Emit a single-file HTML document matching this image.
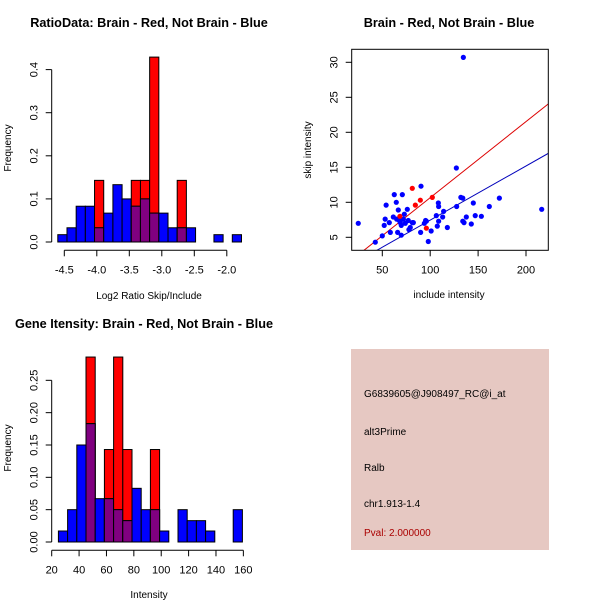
<!DOCTYPE html>
<html><head><meta charset="utf-8"><style>
body{margin:0;background:#fff}
svg{display:block;font-family:"Liberation Sans",sans-serif}
</style></head><body>
<svg id="s" width="600" height="600" viewBox="0 0 600 600">
<rect x="0" y="0" width="600" height="600" fill="#fff"/>
</svg>
<script>
// ---- data ----
const ratioBlue=[0.017,0.033,0.083,0.083,0.033,0.067,0.133,0.1,0.083,0.1,0.067,0.067,0.033,0.033,0.033,0,0,0.017,0,0.017];
const ratioRed=[0,0,0,0,0.143,0,0,0,0.143,0.143,0.429,0,0,0.143,0,0,0,0,0,0];
const ratioXTicks=[-4.5,-4.0,-3.5,-3.0,-2.5,-2.0];
const ratioYTicks=[0.0,0.1,0.2,0.3,0.4];
const intBlue=[0.017,0.05,0.15,0.183,0.067,0.067,0.05,0.033,0.083,0.05,0.05,0.017,0,0.05,0.033,0.033,0.017,0,0,0.05];
const intRed=[0,0,0,0.286,0,0.143,0.286,0.143,0,0,0.143,0,0,0,0,0,0,0,0,0];
const intXTicks=[20,40,60,80,100,120,140,160];
const intYTicks=[0.00,0.05,0.10,0.15,0.20,0.25];
const blueX=[24.9,42.7,50,52,53,54,57.3,58.4,61.5,62.5,64.6,65,66,66.7,67.8,68.8,69.8,69.8,70.9,72,73,74,76.1,77.1,77.8,79.2,81.3,82.4,90.4,90,93.9,95.2,96,98,101,106.4,107.4,108.5,108.8,108.8,113,114,117.9,127.3,127.6,132,134,134,135.3,134.6,137.7,142.9,145,147,153.4,161.7,172.2,216.4];
const blueY=[7.0,4.3,5.2,6.7,7.6,9.6,7.1,5.7,7.9,11.1,10.0,7.6,5.7,8.9,7.4,7.1,6.7,5.3,11.1,7.6,8.3,7.0,9.0,7.4,6.1,6.4,7.1,7.1,12.3,5.7,7.0,7.4,7.3,4.4,5.9,8.1,6.6,9.9,9.4,7.3,7.9,8.7,6.4,14.9,9.4,10.7,10.6,7.3,7.1,30.7,7.9,6.9,9.9,8.1,8.0,9.4,10.6,9.0];
const redX=[68.4,81.3,84.5,89.7,102.2,96];
const redY=[8.0,12.0,9.6,10.3,10.7,6.3];
const redFit=[-0.21,0.1087];
const blueFit=[-0.29,0.0774];
const scXTicks=[50,100,150,200];
const scYTicks=[5,10,15,20,25,30];

const NS="http://www.w3.org/2000/svg";
const svg=document.getElementById('s');
function el(tag,attrs,parent){const e=document.createElementNS(NS,tag);for(const k in attrs)e.setAttribute(k,attrs[k]);(parent||svg).appendChild(e);return e;}
function txt(x,y,s,attrs){const e=el('text',Object.assign({x:x,y:y,'font-size':11,'text-anchor':'middle',fill:'#000'},attrs||{}));e.textContent=s;return e;}

function hist(cfg){
  const g=el('g',{});
  
  
  const X=v=>cfg.x0px+(v-cfg.x0)*cfg.xs, Y=v=>cfg.y0px-v*cfg.ys;
  for(let i=0;i<cfg.blue.length;i++){
    const a=cfg.start+i*cfg.w, b=a+cfg.w, r=cfg.red[i], bl=cfg.blue[i];
    const xa=X(a), xb=X(b);
    if(r>0){const e=el('rect',{x:xa,y:Y(r),width:xb-xa,height:Y(0)-Y(r),fill:'#ff0000',stroke:'#000','stroke-width':1},g);
      }
    if(bl>0){const m=Math.min(r,bl);
      const e=el('rect',{x:xa,y:Y(bl),width:xb-xa,height:Y(0)-Y(bl),fill:'#0000ff',stroke:'#000','stroke-width':1},g);
      
      if(m>0){const p=el('rect',{x:xa,y:Y(m),width:xb-xa,height:Y(0)-Y(m),fill:'#800080',stroke:'#000','stroke-width':1},g);
        }
    }
  }
  const yt=cfg.yticks, ax=cfg.yaxX;
  el('line',{x1:ax,x2:ax,y1:Y(yt[0]),y2:Y(yt[yt.length-1]),stroke:'#000'},g);
  yt.forEach(v=>{el('line',{x1:ax-6,x2:ax,y1:Y(v),y2:Y(v),stroke:'#000'},g);
    const t=txt(ax-14,Y(v),cfg.yfmt(v),{transform:`rotate(-90 ${ax-14} ${Y(v)})`});
    });
  const xt=cfg.xticks, ay=cfg.xaxY;
  el('line',{x1:X(xt[0]),x2:X(xt[xt.length-1]),y1:ay,y2:ay,stroke:'#000'},g);
  xt.forEach(v=>{el('line',{x1:X(v),x2:X(v),y1:ay,y2:ay+6,stroke:'#000'},g);
    const t=txt(X(v),ay+23,cfg.xfmt(v));});
}
hist({name:'ratio-histogram',blue:ratioBlue,red:ratioRed,start:-4.6,w:0.1413,x0:-4.5,x0px:64.3,xs:65,y0px:242,ys:431,
  yticks:ratioYTicks,xticks:ratioXTicks,yaxX:51.7,xaxY:250.3,yfmt:v=>v.toFixed(1),xfmt:v=>v.toFixed(1)});
hist({name:'intensity-histogram',blue:intBlue,red:intRed,start:24.9,w:6.72,x0:20,x0px:51.7,xs:1.369,y0px:542,ys:646.7,
  yticks:intYTicks,xticks:intXTicks,yaxX:51.7,xaxY:550.3,yfmt:v=>v.toFixed(2),xfmt:v=>String(v)});

let t;
t=txt(149,27,'RatioData: Brain - Red, Not Brain - Blue',{'font-weight':'bold','font-size':12.7});
t=txt(149,299,'Log2 Ratio Skip/Include',{'font-size':10});
t=txt(11,148,'Frequency',{'font-size':10,transform:'rotate(-90 11 148)'});
t=txt(144,328,'Gene Itensity: Brain - Red, Not Brain - Blue',{'font-weight':'bold','font-size':12.7});
t=txt(149,598,'Intensity',{'font-size':10});
t=txt(11,448,'Frequency',{'font-size':10,transform:'rotate(-90 11 448)'});

const sg=el('g',{});


const SX=v=>382.3+(v-50)*0.958, SY=v=>237.3-(v-5)*7;
const bx={l:351.7,r:548.3,t:49.3,b:250.3};
const cp=el('clipPath',{id:'cp'},sg);el('rect',{x:bx.l,y:bx.t,width:bx.r-bx.l,height:bx.b-bx.t},cp);
function fit(c,col,name){const x1=20,x2=240;const l=el('line',{x1:SX(x1),y1:SY(c[0]+c[1]*x1),x2:SX(x2),y2:SY(c[0]+c[1]*x2),stroke:col,'stroke-width':1,'clip-path':'url(#cp)'},sg);
  }
fit(redFit,'#dd0000','red-fit-line');fit(blueFit,'#0000bb','blue-fit-line');
blueX.forEach((v,i)=>{const c=el('circle',{cx:SX(v),cy:SY(blueY[i]),r:2.6,fill:'#0000ff','clip-path':'url(#cp)'},sg);
  });
redX.forEach((v,i)=>{const c=el('circle',{cx:SX(v),cy:SY(redY[i]),r:2.6,fill:'#ff0000','clip-path':'url(#cp)'},sg);
  });
el('rect',{x:bx.l,y:bx.t,width:bx.r-bx.l,height:bx.b-bx.t,fill:'none',stroke:'#000'},sg);
scXTicks.forEach(v=>{el('line',{x1:SX(v),x2:SX(v),y1:bx.b,y2:bx.b+6,stroke:'#000'},sg);
  const t=txt(SX(v),bx.b+23,String(v));});
scYTicks.forEach(v=>{el('line',{x1:bx.l-6,x2:bx.l,y1:SY(v),y2:SY(v),stroke:'#000'},sg);
  const t=txt(bx.l-14,SY(v),String(v),{transform:`rotate(-90 ${bx.l-14} ${SY(v)})`});});
t=txt(449,27,'Brain - Red, Not Brain - Blue',{'font-weight':'bold','font-size':12.7});
t=txt(449,298,'include intensity',{'font-size':10});
t=txt(311,150,'skip intensity',{'font-size':10,transform:'rotate(-90 311 150)'});

const ib=el('g',{});


el('rect',{x:351,y:349,width:198,height:201,fill:'#e6c8c2'},ib);
[['G6839605@J908497_RC@i_at',397,'#000','probe-id'],['alt3Prime',435,'#000','event-type'],['Ralb',471,'#000','gene-name'],['chr1.913-1.4',507,'#000','location'],['Pval: 2.000000',536,'#aa0000','pval']].forEach(a=>{
  const e=txt(364,a[1],a[0],{'text-anchor':'start','font-size':10,fill:a[2]},ib);
  ib.appendChild(e);
  });
</script>
</body></html>
